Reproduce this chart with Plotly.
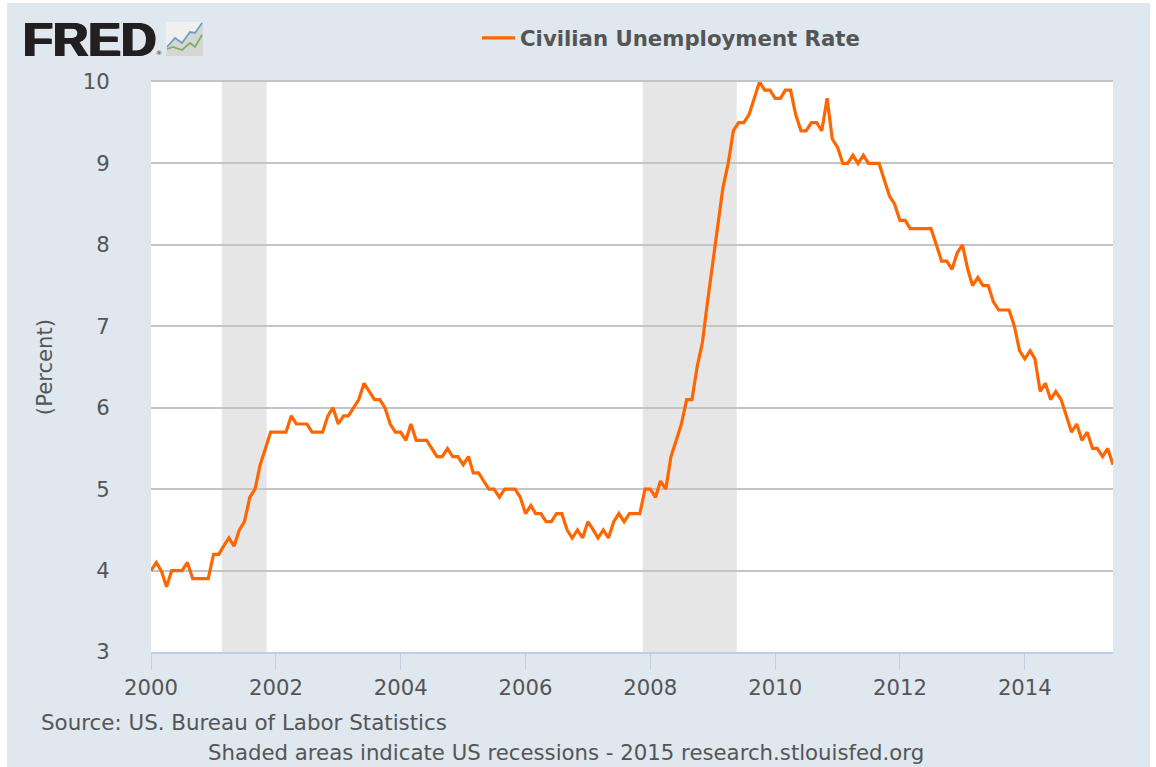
import plotly.graph_objects as go
import pandas as pd

W, H = 1156, 767
L, R, T, B = 151, 1113, 82, 652

years_rates = [
    4.0,4.1,4.0,3.8,4.0,4.0,4.0,4.1,3.9,3.9,3.9,3.9,
    4.2,4.2,4.3,4.4,4.3,4.5,4.6,4.9,5.0,5.3,5.5,5.7,
    5.7,5.7,5.7,5.9,5.8,5.8,5.8,5.7,5.7,5.7,5.9,6.0,
    5.8,5.9,5.9,6.0,6.1,6.3,6.2,6.1,6.1,6.0,5.8,5.7,
    5.7,5.6,5.8,5.6,5.6,5.6,5.5,5.4,5.4,5.5,5.4,5.4,
    5.3,5.4,5.2,5.2,5.1,5.0,5.0,4.9,5.0,5.0,5.0,4.9,
    4.7,4.8,4.7,4.7,4.6,4.6,4.7,4.7,4.5,4.4,4.5,4.4,
    4.6,4.5,4.4,4.5,4.4,4.6,4.7,4.6,4.7,4.7,4.7,5.0,
    5.0,4.9,5.1,5.0,5.4,5.6,5.8,6.1,6.1,6.5,6.8,7.3,
    7.8,8.3,8.7,9.0,9.4,9.5,9.5,9.6,9.8,10.0,9.9,9.9,
    9.8,9.8,9.9,9.9,9.6,9.4,9.4,9.5,9.5,9.4,9.8,9.3,
    9.2,9.0,9.0,9.1,9.0,9.1,9.0,9.0,9.0,8.8,8.6,8.5,
    8.3,8.3,8.2,8.2,8.2,8.2,8.2,8.0,7.8,7.8,7.7,7.9,
    8.0,7.7,7.5,7.6,7.5,7.5,7.3,7.2,7.2,7.2,7.0,6.7,
    6.6,6.7,6.6,6.2,6.3,6.1,6.2,6.1,5.9,5.7,5.8,5.6,
    5.7,5.5,5.5,5.4,5.5,5.3,
]
months = pd.date_range("2000-01-01", periods=len(years_rates), freq="MS")
recession_starts = ["2001-02-18", "2007-11-18"]
recession_ends = ["2001-11-08", "2009-05-21"]
y_ticks = [3, 4, 5, 6, 7, 8, 9, 10]

PANEL = "#DFE7EF"
TEXT = "#555555"
ORANGE = "#FF6600"
FONT = "DejaVu Sans"
FS = 21.2

def px(x):
    return (x - L) / (R - L)

def py(y):
    return (B - y) / (B - T)

fig = go.Figure()
fig.add_trace(go.Scatter(
    x=months, y=years_rates, mode="lines", name="Civilian Unemployment Rate",
    line=dict(color=ORANGE, width=3.2), cliponaxis=False, hoverinfo="skip",
))

shapes = []
for s, e in zip(recession_starts, recession_ends):
    shapes.append(dict(type="rect", xref="x", yref="paper", layer="below",
                       x0=s, x1=e, y0=0, y1=1, fillcolor="#E6E6E6", line_width=0))

# top gridline, which sits on the plot edge
shapes.append(dict(type="line", xref="paper", yref="paper", layer="below",
                   x0=0, x1=1, y0=py(81), y1=py(81), line=dict(color="#C4C4C4", width=2)))

# white page margins around the panel
for x0, x1, y0, y1 in [(0, 7, 0, 767), (1150, 1156, 0, 767), (0, 1156, 0, 3)]:
    shapes.append(dict(type="rect", xref="paper", yref="paper", layer="above",
                       x0=px(x0), x1=px(x1), y0=py(y0), y1=py(y1),
                       fillcolor="white", line_width=0))

def logo_path(points, close=False):
    return "M" + " L".join(f"{px(a):.5f},{py(b):.5f}" for a, b in points) + (" Z" if close else "")

blue = [(167,47),(175,38),(182,43),(190,32),(195,33),(202,23)]
green = [(167,49),(173,47),(182,50),(190,43),(195,47),(202,35)]
shapes.append(dict(type="rect", xref="paper", yref="paper", x0=px(166), x1=px(203),
                   y0=py(56), y1=py(22), fillcolor="#F0F1EF", line_width=0, layer="above"))
shapes.append(dict(type="path", xref="paper", yref="paper", layer="above", line_width=0,
                   path=logo_path([(166,56)] + blue + [(203,22),(203,56)], close=True),
                   fillcolor="#D6D7D5"))
shapes.append(dict(type="path", xref="paper", yref="paper", layer="above",
                   path=logo_path(blue), line=dict(color="#6F9FC0", width=1.8)))
shapes.append(dict(type="path", xref="paper", yref="paper", layer="above",
                   path=logo_path(green), line=dict(color="#7FAF5F", width=1.8)))

annotations = [
    dict(text="<b>FRED</b>", x=px(23), y=py(38.5), xanchor="left", yanchor="middle",
         font=dict(family="Liberation Sans", size=49, color="#231F20",
                   shadow="1.2px 0 0 #231F20, -1.2px 0 0 #231F20")),
    dict(text="®", x=px(156), y=py(52), xanchor="left", yanchor="middle",
         font=dict(family=FONT, size=6, color="#231F20")),
    dict(text="Source: US. Bureau of Labor Statistics", x=px(41), y=py(722),
         xanchor="left", yanchor="middle", font=dict(family=FONT, size=FS + 0.2, color=TEXT)),
    dict(text="Shaded areas indicate US recessions - 2015 research.stlouisfed.org",
         x=px(208), y=py(753), xanchor="left", yanchor="middle",
         font=dict(family=FONT, size=FS + 0.05, color=TEXT)),
]
for a in annotations:
    a.update(xref="paper", yref="paper", showarrow=False, borderpad=0, borderwidth=0)

fig.update_layout(
    width=W, height=H, autosize=False,
    margin=dict(l=L, r=W - R, t=T, b=H - B, pad=0),
    paper_bgcolor=PANEL, plot_bgcolor="white",
    font=dict(family=FONT, color=TEXT, size=FS),
    shapes=shapes, annotations=annotations,
    showlegend=True,
    legend=dict(x=px(477), y=py(38), xanchor="left", yanchor="middle", orientation="h",
                bgcolor="rgba(0,0,0,0)", itemwidth=33,
                font=dict(family=FONT, size=FS + 0.05, color=TEXT, weight="bold")),
    xaxis=dict(type="date", range=[months[0], months[-1]], tick0="2000-01-01", dtick="M24",
               tickformat="%Y", showgrid=False, showline=True, linecolor="#C0D0E0", linewidth=2,
               ticks="outside", ticklen=16, tickwidth=1, tickcolor="#C0D0E0",
               tickfont=dict(family=FONT, size=FS, color=TEXT), zeroline=False),
    yaxis=dict(range=[3, 10], tickvals=y_ticks, showgrid=True, gridcolor="#C4C4C4", gridwidth=2,
               ticks="outside", ticklen=36, tickcolor="rgba(0,0,0,0)", tickwidth=1,
               tickfont=dict(family=FONT, size=FS, color=TEXT), zeroline=False, showline=False,
               title=dict(text="(Percent)", font=dict(family=FONT, size=FS, color=TEXT), standoff=24)),
)

fig.write_html("out.html", config=dict(displayModeBar=False),
               post_script="document.body.style.margin='0';document.body.style.overflow='hidden';")
